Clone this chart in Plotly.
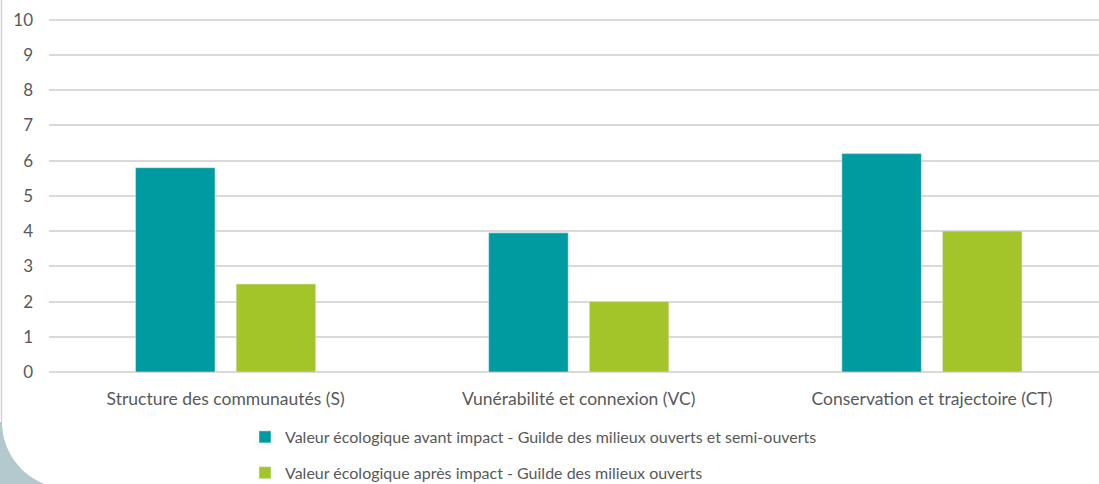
import math
import plotly.graph_objects as go

categories = ["Structure des communautés (S)", "Vunérabilité et connexion (VC)", "Conservation et trajectoire (CT)"]
avant = [5.8, 3.95, 6.2]
apres = [2.5, 2.0, 4.0]
series_names = [
    "Valeur écologique avant impact - Guilde des milieux ouverts et semi-ouverts",
    "Valeur écologique après impact - Guilde des milieux ouverts",
]
y_ticks = list(range(0, 11))

W, H = 1099, 484
L, R, T, B = 49, 0, 18, 112
PW, PH = W - L - R, H - T - B

def px(x):
    return (x - L) / PW

def py(y):
    return (H - B - y) / PH

fig = go.Figure()
fig.add_trace(go.Bar(x=categories, y=avant, name=series_names[0], marker_color="#009ba1",
                     legendgroup="a"))
fig.add_trace(go.Bar(x=categories, y=apres, name=series_names[1], marker_color="#a3c52a",
                     legendgroup="b"))

# rounded slide corner at bottom-left
cx, cy, r = 68.5, 422.0, 66.5
pts = [(0, cy), (2, cy)]
for i in range(0, 31):
    a = math.pi + (math.pi / 2) * (i / 30)
    x = cx + r * math.cos(a)
    y = cy - r * math.sin(a)
    pts.append((x, y))
pts += [(cx + 5, H + 5), (0, H + 5)]
path = "M " + " L ".join(f"{px(x):.5f},{py(y):.5f}" for x, y in pts) + " Z"

shapes = [
    dict(type="path", path=path, xref="paper", yref="paper", fillcolor="#b4c9cd",
         line=dict(width=0), layer="below"),
    dict(type="line", xref="paper", yref="paper", x0=px(1.5), x1=px(1.5), y0=py(-2), y1=py(cy),
         line=dict(color="#d2d2d2", width=1.5), layer="below"),
]

fig.update_layout(
    width=W, height=H,
    margin=dict(l=L, r=R, t=T, b=B, pad=0, autoexpand=False),
    paper_bgcolor="white", plot_bgcolor="white",
    barmode="group", bargap=0.43, bargroupgap=0.21,
    font=dict(family="Lato, Open Sans, sans-serif", color="#595959", size=16),
    shapes=shapes,
    showlegend=True,
    legend=dict(orientation="v", x=px(245), xanchor="left", y=py(420), yanchor="top",
                traceorder="grouped", tracegroupgap=12, font=dict(size=16, color="#595959"),
                itemwidth=30, bgcolor="rgba(0,0,0,0)"),
    xaxis=dict(range=[-0.5, 2.473], showgrid=False, ticks="", ticklabelstandoff=14,
               tickfont=dict(size=17.5, color="#595959"), showline=False, zeroline=False,
               automargin=False, fixedrange=True),
    yaxis=dict(range=[0, 10.05], tickvals=y_ticks, showgrid=True, gridcolor="#d9d9d9",
               gridwidth=1.5, zeroline=True, zerolinecolor="#d9d9d9", zerolinewidth=1.5,
               ticklabelstandoff=15, tickfont=dict(size=17, color="#595959"), showline=False,
               automargin=False),
)

fig.write_html("out.html", config={"displayModeBar": False},
               post_script="document.body.style.margin='0';document.body.style.overflow='hidden';")
